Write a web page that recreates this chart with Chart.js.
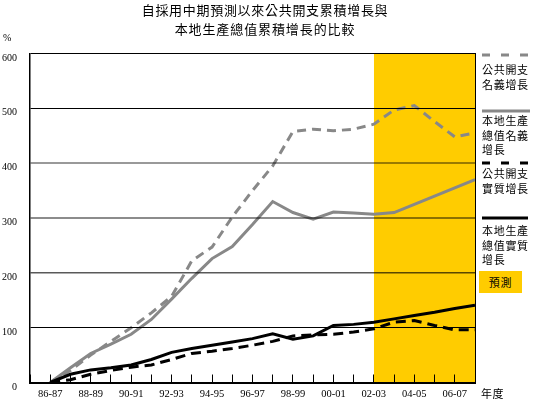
<!DOCTYPE html>
<html><head><meta charset="utf-8">
<script src="https://cdn.jsdelivr.net/npm/chart.js@4.4.0/dist/chart.umd.min.js"></script>
<style>
html,body{margin:0;padding:0;background:#fff;}
#wrap{position:relative;width:545px;height:408px;overflow:hidden;background:#fff;}
canvas{position:absolute;left:0;top:0;}
.t{position:absolute;white-space:nowrap;font-family:"Noto Sans CJK TC","Noto Sans CJK SC",sans-serif;color:#000;line-height:1;}
.lg{position:absolute;left:482px;white-space:nowrap;font-family:"Noto Sans CJK TC",sans-serif;font-size:11px;letter-spacing:0.7px;color:#000;}
svg{position:absolute;}
</style></head>
<body><div id="wrap"><canvas id="c" width="545" height="408"></canvas>
<div class="t" style="left:0;width:530px;text-align:center;top:3px;font-size:13px;letter-spacing:0.7px">自採用中期預測以來公共開支累積增長與</div>
<div class="t" style="left:0;width:530px;text-align:center;top:22px;font-size:13px;letter-spacing:0.9px">本地生產總值累積增長的比較</div>
<div class="t" style="left:3px;top:33px;font-family:'Liberation Serif',serif;font-size:10px">%</div>
<div class="t" style="left:481px;top:388px;font-size:11px;letter-spacing:0.6px">年度</div>

<svg style="left:482px;top:52px" width="48" height="6"><line x1="0" y1="3" x2="48" y2="3" stroke="#888" stroke-width="3" stroke-dasharray="8 11"/></svg>
<div class="lg" style="top:62px;line-height:15px">公共開支<br>名義增長</div>
<svg style="left:482px;top:108px" width="48" height="6"><line x1="0" y1="3" x2="48" y2="3" stroke="#888" stroke-width="3"/></svg>
<div class="lg" style="top:113px;line-height:14.5px">本地生產<br>總值名義<br>增長</div>
<svg style="left:482px;top:160px" width="48" height="6"><line x1="0" y1="3" x2="48" y2="3" stroke="#000" stroke-width="3" stroke-dasharray="8 11"/></svg>
<div class="lg" style="top:166px;line-height:14.5px">公共開支<br>實質增長</div>
<svg style="left:482px;top:215px" width="48" height="6"><line x1="0" y1="3" x2="46" y2="3" stroke="#000" stroke-width="3"/></svg>
<div class="lg" style="top:223px;line-height:14.5px">本地生產<br>總值實質<br>增長</div>
<div style="position:absolute;left:479px;top:271px;width:43px;height:22px;background:#FFCC00"></div>
<div class="lg" style="left:479px;width:43px;text-align:center;top:276px;line-height:12px">預測</div>
</div>
<script>
const categories = ['86-87','87-88','88-89','89-90','90-91','91-92','92-93','93-94','94-95','95-96','96-97','97-98','98-99','99-00','00-01','01-02','02-03','03-04','04-05','05-06','06-07','07-08'];
const tickLabels = ['86-87','88-89','90-91','92-93','94-95','96-97','98-99','00-01','02-03','04-05','06-07'];
const yTicks = [0,100,200,300,400,500,600];
const forecastPeriod = ['02-03','07-08'];
const publicNominal = [0,22,50,75,100,127,157,222,247,302,350,395,458,462,459,462,471,497,505,476,448,455];
const gdpNominal    = [0,27,53,70,88,115,152,190,226,248,288,330,310,298,311,309,307,310,325,340,355,370];
const publicReal    = [0,5,15,22,28,32,42,53,57,62,68,75,85,87,88,92,98,110,113,104,96,96];
const gdpReal       = [0,15,23,27,32,42,55,62,68,74,80,89,79,85,104,106,110,116,122,128,135,141];

// gridline styles per y tick (visual style only)
const gridColors = ['#000','#000','rgba(0,0,0,0.65)','rgba(0,0,0,0.45)','rgba(0,0,0,0.4)','#000','#000'];
const gridWidths = [1,1,1.5,2,2,1,1];

const pts = arr => arr.map((v,i) => ({x:i, y:v}));
const yMax = yTicks[yTicks.length-1];
const forecastPts = forecastPeriod.map(c => ({x: categories.indexOf(c), y: yMax}));
const serif = 'Liberation Serif';

new Chart(document.getElementById('c'), {
  type: 'line',
  data: { datasets: [
    {label:'公共開支名義增長', data: pts(publicNominal), borderColor:'#888888', borderWidth:3, borderDash:[9,6], pointRadius:0, fill:false, order:3},
    {label:'本地生產總值名義增長', data: pts(gdpNominal), borderColor:'#888888', borderWidth:3, pointRadius:0, fill:false, order:2},
    {label:'公共開支實質增長', data: pts(publicReal), borderColor:'#000000', borderWidth:3, borderDash:[10,6], pointRadius:0, fill:false, order:1},
    {label:'本地生產總值實質增長', data: pts(gdpReal), borderColor:'#000000', borderWidth:3, pointRadius:0, fill:false, order:0},
    {label:'預測', data: forecastPts, borderWidth:0, borderColor:'rgba(0,0,0,0)', backgroundColor:'#FFCC00', pointRadius:0, fill:'origin', order:10}
  ]},
  options: {
    responsive:false, animation:false,
    layout:{padding:{left:0,right:70,top:53.5,bottom:0}},
    plugins:{legend:{display:false}, title:{display:false}, tooltip:{enabled:false}},
    scales:{
      x:{type:'linear', min:-1, max:categories.length-1,
        afterBuildTicks: s => { const t=[]; for(let v=-1; v<categories.length; v++) t.push({value:v}); s.ticks=t; },
        afterFit: s => { s.height = 25.5; },
        grid:{drawOnChartArea:false, drawTicks:true, tickLength:-8, color:'#000', lineWidth:1, z:1},
        border:{color:'#000', width:2, z:1},
        ticks:{autoSkip:false, maxRotation:0, minRotation:0, padding:13, color:'#000', font:{family:serif, size:10.5},
          callback: v => (v>=0 && tickLabels.includes(categories[v])) ? categories[v] : ''}
      },
      y:{min:0, max:yMax,
        afterBuildTicks: s => { s.ticks = yTicks.map(v => ({value:v})); },
        afterFit: s => { s.width = 30; },
        grid:{drawTicks:false, z:1,
          color: ctx => { const i = yTicks.indexOf(ctx.tick ? ctx.tick.value : -1); return i >= 0 ? gridColors[i] : '#000'; },
          lineWidth: ctx => { const i = yTicks.indexOf(ctx.tick ? ctx.tick.value : -1); return i >= 0 ? gridWidths[i] : 1; }},
        border:{color:'#000', width:1.5, z:1},
        ticks:{padding:13, labelOffset:4.5, color:'#000', font:{family:serif, size:10}}
      },
      y2:{position:'right', min:0, max:yMax,
        afterFit: s => { s.width = 0; },
        grid:{drawOnChartArea:false, drawTicks:false},
        ticks:{display:false},
        border:{color:'#000', width:1, z:1}
      }
    }
  }
});
</script>
</body></html>
